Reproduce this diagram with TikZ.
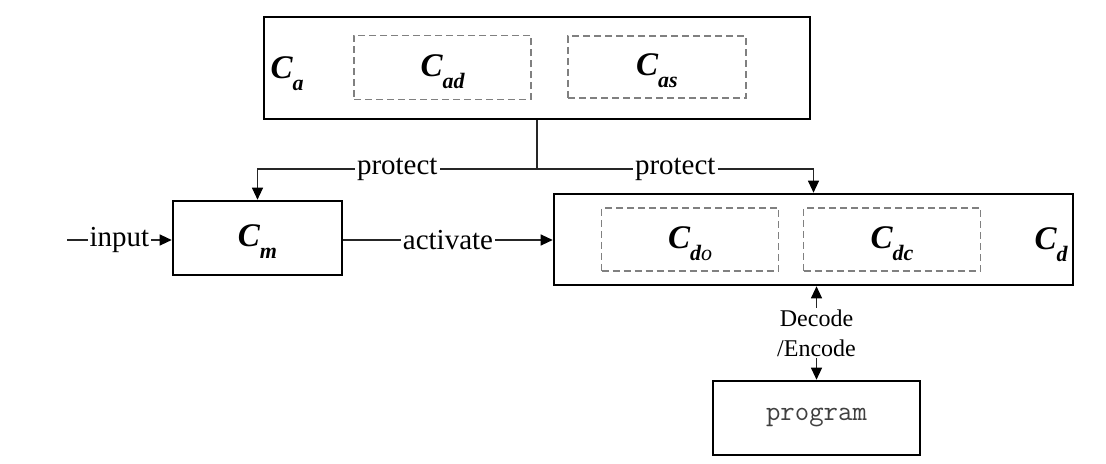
\documentclass[tikz,border=0pt]{standalone}
\usepackage{fontspec}
\setmainfont{Liberation Serif}
\usetikzlibrary{arrows.meta}

\newcommand{\Csub}[1]{{\fontsize{16.5}{18}\selectfont\bfseries\itshape C}{\fontsize{11}{11}\selectfont\bfseries\itshape\raisebox{-6pt}{#1}}}

\tikzset{
  blockbox/.style={draw,line width=1.3pt,inner sep=0pt},
  partbox/.style={draw=gray,dashed,dash pattern=on 3.5pt off 2pt,line width=0.6pt,inner sep=0pt},
  clabel/.style={inner sep=0pt,yshift=-2pt},
  wire/.style={draw=black!85,line width=0.55pt},
  tip/.style={-{Triangle[length=6pt,width=5.5pt,color=black]}},
  bitip/.style={{Triangle[length=6pt,width=5.5pt,color=black]}-{Triangle[length=6pt,width=5.5pt,color=black]}},
  wlabel/.style={fill=white,inner sep=1pt,font=\fontsize{14.5}{16}\selectfont}
}

\begin{document}
\begin{tikzpicture}[
                x=0.5pt,
                y=-0.5pt,
                line width=0.6pt] %

\useasboundingbox (0,0) rectangle (1106,464);

                    % top block
                    \node[blockbox,minimum width=273pt,minimum height=51pt] (CA) at (537,68) {}; % 1
                    \node[partbox,minimum width=88.5pt,minimum height=32pt] (CAD) at (442.5,67.5) {};
                    \node[partbox,minimum width=89pt,minimum height=31pt] (CAS) at (657,67) {};
                    \node[clabel] (CAL) at (287,70) {\Csub{a}};
                    \node[clabel] (CADL) at (CAD) {\Csub{ad}};
                    \node[clabel] (CASL) at (CAS) {\Csub{as}};

                    % middle blocks
                    \node[blockbox,minimum width=84.5pt,minimum height=37pt] (CM) at (257.5,238) {}; % 2
                    \node[clabel] (CML) at (CM) {\Csub{m}};
                    \node[blockbox,minimum width=259.5pt,minimum height=45.5pt] (CD) at (813.5,239.5) {}; % 3
                    \node[partbox,minimum width=88.5pt,minimum height=31.5pt] (CDO) at (690,239.5) {};
                    \node[partbox,minimum width=88.5pt,minimum height=31.5pt] (CDC) at (892,239.5) {};
                    \node[clabel] (CDOL) at (CDO) {\Csub{d{\mdseries o}}};
                    \node[clabel] (CDCL) at (CDC) {\Csub{dc}};
                    \node[clabel] (CDL) at (1051,241) {\Csub{d}};

                    % bottom block
                    \node[blockbox,minimum width=103.5pt,minimum height=37pt,
                          font=\ttfamily\fontsize{14}{16}\selectfont,text=black!75] (PROG) at (816.5,418) {program}; % 4

%%%%%%%%%%%%%%%%%%%%%%%%%%%%%%%%%%%%%%%%%%%%%%%%%%%%%%%%%%%%%%%%%%%%%%%%%%%%%%%%%%%%

% connectors
\coordinate (JN) at (CA.south |- 0,169);
\coordinate (IN) at (67,240);
\path[wire] (CA.south) -- (JN);
\path[wire,tip] (JN) -| node[wlabel,pos=0.25] {protect} (CM.north);
\path[wire,tip] (JN) -| node[wlabel,pos=0.25] {protect} (CD.north);
\path[wire,tip] (IN) -- node[wlabel] {input} (IN -| CM.west);
\path[wire,tip] (IN -| CM.east) -- node[wlabel] {activate} (IN -| CD.west);
\path[wire,bitip]
  (PROG.north |- CD.south) -- node[fill=white,align=center,inner sep=1pt,
  font=\fontsize{12}{15}\selectfont] {Decode\\/Encode} (PROG.north);

\end{tikzpicture}
\end{document}
